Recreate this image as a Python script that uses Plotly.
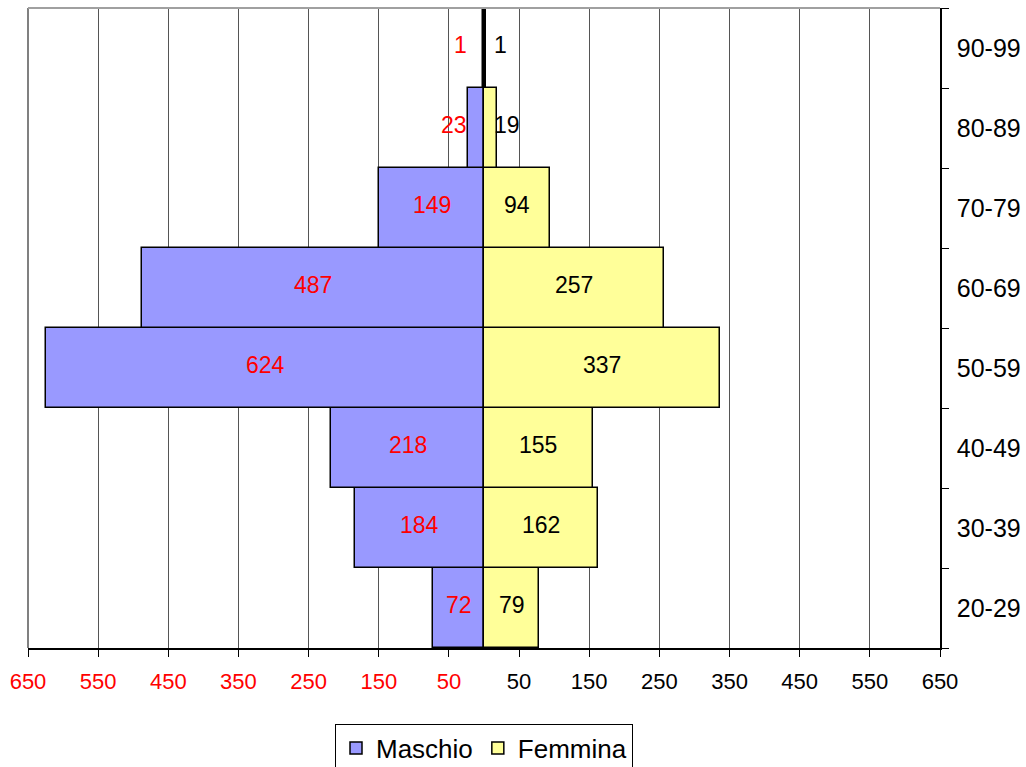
import plotly.graph_objects as go

# Age pyramid: males drawn to the left (negative), females to the right
age_groups = ["20-29", "30-39", "40-49", "50-59", "60-69", "70-79", "80-89", "90-99"]
maschio = [72, 184, 218, 624, 487, 149, 23, 1]
femmina = [79, 162, 155, 337, 257, 94, 19, 1]

tick_values = [-650, -550, -450, -350, -250, -150, -50, 50, 150, 250, 350, 450, 550, 650]

FONT = "Liberation Sans, Arial, sans-serif"
MALE_COLOR = "#9999FF"
FEMALE_COLOR = "#FFFF99"
LABEL_SIZE = 23

tick_text = [
    f'<span style="color:red">{abs(v)}</span>' if v < 0 else f"{v}" for v in tick_values
]

fig = go.Figure()
fig.add_trace(go.Bar(
    name="Maschio", y=age_groups, x=[-v for v in maschio], orientation="h",
    marker=dict(color=MALE_COLOR, line=dict(color="black", width=1.5)),
))
fig.add_trace(go.Bar(
    name="Femmina", y=age_groups, x=femmina, orientation="h",
    marker=dict(color=FEMALE_COLOR, line=dict(color="black", width=1.5)),
))

# value labels: centred in the bar, or pushed next to the axis when the bar is too narrow
NARROW = 36
for cat, m, f in zip(age_groups, maschio, femmina):
    if m >= NARROW * 2:
        fig.add_annotation(x=-m / 2, y=cat, text=str(m), showarrow=False, yshift=3,
                           xanchor="center", font=dict(color="red", size=LABEL_SIZE, family=FONT))
    else:
        fig.add_annotation(x=-22, y=cat, text=str(m), showarrow=False, yshift=3,
                           xanchor="right", font=dict(color="red", size=LABEL_SIZE, family=FONT))
    if f >= NARROW * 2:
        fig.add_annotation(x=f / 2, y=cat, text=str(f), showarrow=False, yshift=3,
                           xanchor="center", font=dict(color="black", size=LABEL_SIZE, family=FONT))
    else:
        fig.add_annotation(x=12, y=cat, text=str(f), showarrow=False, yshift=3,
                           xanchor="left", font=dict(color="black", size=LABEL_SIZE, family=FONT))

# grey frame on the top and left edges of the plot area
fig.add_shape(type="line", xref="paper", yref="paper", x0=0, x1=1, y0=1, y1=1,
              line=dict(color="#a0a0a0", width=2), layer="above")
fig.add_shape(type="line", xref="paper", yref="paper", x0=0, x1=0, y0=0, y1=1,
              line=dict(color="#808080", width=2), layer="below")

fig.update_layout(
    width=1026, height=767,
    margin=dict(l=28, r=86, t=8, b=119, autoexpand=False),
    paper_bgcolor="white", plot_bgcolor="white",
    barmode="relative", bargap=0,
    font=dict(family=FONT, color="black"),
    showlegend=True,
    legend=dict(
        orientation="h", x=0.5, xanchor="center", y=-0.118, yanchor="top",
        bordercolor="black", borderwidth=1, bgcolor="white",
        font=dict(size=26, family=FONT, color="black"),
        itemwidth=30, traceorder="normal",
    ),
    xaxis=dict(
        range=[-650, 650], tickvals=tick_values, ticktext=tick_text,
        showgrid=True, gridcolor="#555555", gridwidth=1,
        zeroline=True, zerolinecolor="black", zerolinewidth=3,
        showline=True, linecolor="black", linewidth=1.5,
        ticks="outside", ticklen=7, tickcolor="black", tickwidth=1,
        ticklabelstandoff=6,
        tickfont=dict(size=22, family=FONT, color="black"),
        fixedrange=True,
    ),
    yaxis=dict(
        side="right", range=[-0.5, 7.5], categoryorder="array", categoryarray=age_groups,
        showgrid=False, zeroline=False,
        showline=True, linecolor="black", linewidth=1.5,
        ticks="outside", tickson="boundaries", ticklen=7, tickcolor="black",
        ticklabelstandoff=10,
        tickfont=dict(size=25, family=FONT, color="black"),
        fixedrange=True,
    ),
)

fig.write_html("out.html")
